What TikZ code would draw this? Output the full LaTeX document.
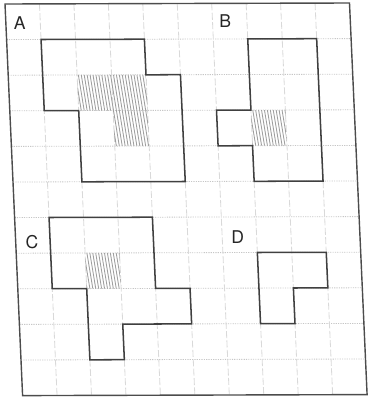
\documentclass[tikz,border=0pt]{standalone}
\usepackage{fontspec}
\setmainfont{TeX Gyre Heros}

\begin{document}
\begin{tikzpicture}[
    fig/.style={draw=black!75, line width=1.3pt, line join=miter},
    frame/.style={draw=black!70, line width=1.2pt, line join=miter},
    hline/.style={draw=gray!45, line width=0.7pt, dash pattern=on 1pt off 1pt},
    vline/.style={draw=gray!30, line width=0.7pt, dash pattern=on 6pt off 2pt},
    hatch/.style={draw=gray!75, line width=0.75pt},
    lbl/.style={font=\fontsize{15}{17}\selectfont, text=black!85, inner sep=0pt},
]
\useasboundingbox (0,0) rectangle (11.19,-11.94);
\begin{scope}[shift={(0.15cm,-0.12cm)}, x={(1.0335cm,0.003cm)}, y={(0.048cm,-1.068cm)}]
% grid and frame
\foreach \r in {1,...,10} \draw[hline] (0,\r) -- (10,\r);
\foreach \c in {1,...,9} \draw[vline] (\c,0) -- (\c,11);
\draw[frame] (0,0) -- (10,0) -- (10,11) -- (0,11) -- cycle;

% shaded cells
\begin{scope}
  \clip (2,2) -- (4,2) -- (4,4) -- (3,4) -- (3,3) -- (2,3) -- cycle;
  \foreach \t in {1.6,1.685,...,4.1} \draw[hatch] (\t,1.9) -- (\t+0.27,4.1);
\end{scope}
\begin{scope}
  \clip (7,3) -- (8,3) -- (8,4) -- (7,4) -- cycle;
  \foreach \t in {6.7,6.785,...,8.1} \draw[hatch] (\t,2.9) -- (\t+0.15,4.1);
\end{scope}
\begin{scope}
  \clip (2,7) -- (3,7) -- (3,8) -- (2,8) -- cycle;
  \foreach \t in {1.7,1.785,...,3.1} \draw[hatch] (\t,6.9) -- (\t+0.15,8.1);
\end{scope}

% figures
\draw[fig] (1,1) -- (4,1) -- (4,2) -- (5,2) -- (5,5) -- (2,5) -- (2,3) -- (1,3) -- cycle;
\draw[fig] (7,1) -- (9,1) -- (9,5) -- (7,5) -- (7,4) -- (6,4) -- (6,3) -- (7,3) -- cycle;
\draw[fig] (1,6) -- (4,6) -- (4,8) -- (5,8) -- (5,9) -- (3,9) -- (3,10) -- (2,10) -- (2,8) -- (1,8) -- cycle;
\draw[fig] (7,7) -- (9,7) -- (9,8) -- (8,8) -- (8,9) -- (7,9) -- cycle;

% labels
\node[lbl] (labA) at (0.4,0.55) {A};
\node[lbl] (labB) at (6.37,0.5) {B};
\node[lbl] (labC) at (0.47,6.68) {C};
\node[lbl] (labD) at (6.45,6.56) {D};
\end{scope}
\end{tikzpicture}
\end{document}
